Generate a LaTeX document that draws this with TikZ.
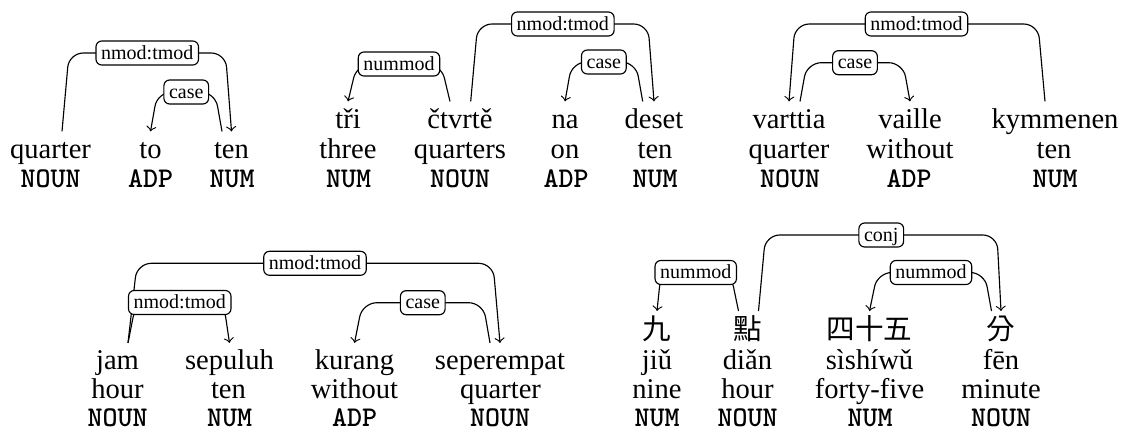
\documentclass[tikz,border=0pt]{standalone}
\usepackage{fontspec}
\setmainfont{Liberation Serif}
\newfontfamily\cjk{Noto Sans CJK TC}
\usetikzlibrary{calc}
\tikzset{
  wd/.style={anchor=base, inner xsep=0pt, inner ysep=2.1pt, text height=7pt, text depth=2pt},
  cj/.style={anchor=base, inner xsep=0pt, inner ysep=2.1pt, text height=7.5pt, text depth=1pt, font=\cjk},
  gl/.style={anchor=base, inner sep=0pt},
  tg/.style={anchor=base, inner sep=0pt, font=\ttfamily\bfseries},
  lab/.style={draw, fill=white, rounded corners=2pt, font=\fontsize{7}{8}\selectfont,
    inner xsep=1.8pt, inner ysep=1.4pt, text height=5pt, text depth=0.6pt, line width=0.4pt},
  dep/.style={->, rounded corners=5pt, line width=0.4pt}
}
% #1 start coordinate, #2 target node, #3 level, #4 start slant, #5 end slant, #6 label name, #7 label text
\newcommand\depedge[7]{%
  \draw[dep] (#1) -- ($(#1 |- 0,#3)+(#4,0)$) -- node[lab] (#6) {#7} ($(#2.north |- 0,#3)+(#5,0)$) -- (#2.north);
}
\begin{document}
\begin{tikzpicture}[x=0.35pt, y=-0.35pt]
\useasboundingbox (0,0) rectangle (1121,430);

% ---------- top left ----------
\node[wd] (a1) at (50.5,158) {quarter};
\node[tg] (a1t) at (50.5,187) {NOUN};
\node[wd] (a2) at (150.5,158) {to};
\node[tg] (a2t) at (150.5,187) {ADP};
\node[wd] (a3) at (231.5,158) {ten};
\node[tg] (a3t) at (232,187) {NUM};
\coordinate (a1o) at ($(a1.north)+(11.5,0)$);
\coordinate (a3o) at ($(a3.north)+(-9.5,0)$);
\depedge{a1o}{a3}{53}{7}{-6}{la1}{nmod:tmod}
\depedge{a3o}{a2}{92}{-7}{7}{la2}{case}

% ---------- top middle ----------
\node[wd] (b1) at (348,128) {tři};
\node[gl] (b1g) at (348,158) {three};
\node[tg] (b1t) at (348.5,187) {NUM};
\node[wd] (b2) at (460,128) {čtvrtě};
\node[gl] (b2g) at (460,158) {quarters};
\node[tg] (b2t) at (460,187) {NOUN};
\node[wd] (b3) at (565,128) {na};
\node[gl] (b3g) at (565,158) {on};
\node[tg] (b3t) at (566,187) {ADP};
\node[wd] (b4) at (654,128) {deset};
\node[gl] (b4g) at (655,158) {ten};
\node[tg] (b4t) at (655,187) {NUM};
\coordinate (b2l) at ($(b2.north)+(-10,0)$);
\coordinate (b2r) at ($(b2.north)+(10.7,0)$);
\coordinate (b4o) at ($(b4.north)+(-11.3,0)$);
\depedge{b2l}{b1}{64}{-9}{9}{lb1}{nummod}
\depedge{b2r}{b4}{24}{7}{-6}{lb2}{nmod:tmod}
\depedge{b4o}{b3}{62}{-7}{7}{lb3}{case}

% ---------- top right ----------
\node[wd] (c1) at (789,128) {varttia};
\node[gl] (c1g) at (789,158) {quarter};
\node[tg] (c1t) at (790,187) {NOUN};
\node[wd] (c2) at (910,128) {vaille};
\node[gl] (c2g) at (910,158) {without};
\node[tg] (c2t) at (909,187) {ADP};
\node[wd] (c3) at (1055,128) {kymmenen};
\node[gl] (c3g) at (1054,158) {ten};
\node[tg] (c3t) at (1055,187) {NUM};
\coordinate (c3o) at ($(c3.north)+(-10,0)$);
\coordinate (c1o) at ($(c1.north)+(11,0)$);
\depedge{c3o}{c1}{24}{-7}{6}{lc1}{nmod:tmod}
\depedge{c1o}{c2}{62.7}{7}{-7}{lc2}{case}

% ---------- bottom left ----------
\node[wd] (d1) at (117.5,369.5) {jam};
\node[gl] (d1g) at (117.5,398) {hour};
\node[tg] (d1t) at (117.5,426.5) {NOUN};
\node[wd] (d2) at (229.5,369.5) {sepuluh};
\node[gl] (d2g) at (228.5,398) {ten};
\node[tg] (d2t) at (229.5,426.5) {NUM};
\node[wd] (d3) at (354.5,369.5) {kurang};
\node[gl] (d3g) at (354.5,398) {without};
\node[tg] (d3t) at (354.5,426.5) {ADP};
\node[wd] (d4) at (500,369.5) {seperempat};
\node[gl] (d4g) at (500.5,398) {quarter};
\node[tg] (d4t) at (500,426.5) {NOUN};
\coordinate (d1o) at ($(d1.north)+(10.5,0)$);
\coordinate (d4o) at ($(d4.north)+(-10,0)$);
\depedge{d1o}{d4}{263.3}{9}{-7}{ld1}{nmod:tmod}
\depedge{d1o}{d2}{302.5}{8}{-6}{ld2}{nmod:tmod}
\depedge{d4o}{d3}{302.7}{-7}{8}{ld3}{case}

% ---------- bottom right ----------
\node[cj] (e1) at (657,339) {九};
\node[gl] (e1p) at (657,369) {jiǔ};
\node[gl] (e1g) at (657,398) {nine};
\node[tg] (e1t) at (657,426.5) {NUM};
\node[cj] (e2) at (747.5,339) {點};
\node[gl] (e2p) at (747.5,369) {diǎn};
\node[gl] (e2g) at (747.5,398) {hour};
\node[tg] (e2t) at (747.5,426.5) {NOUN};
\node[cj] (e3) at (869.5,339) {四十五};
\node[gl] (e3p) at (869.5,369) {sìshíwǔ};
\node[gl] (e3g) at (869.5,398) {forty-five};
\node[tg] (e3t) at (870,426.5) {NUM};
\node[cj] (e4) at (1001,339) {分};
\node[gl] (e4p) at (1001,369) {fēn};
\node[gl] (e4g) at (1001,398) {minute};
\node[tg] (e4t) at (1001,426.5) {NOUN};
\coordinate (e2r) at ($(e2.north)+(11,0)$);
\coordinate (e2l) at ($(e2.north)+(-9,0)$);
\coordinate (e4o) at ($(e4.north)+(-9.5,0)$);
\depedge{e2r}{e4}{235}{7}{-4}{le1}{conj}
\depedge{e2l}{e1}{272.5}{-8}{4}{le2}{nummod}
\depedge{e4o}{e3}{272.5}{-7}{8}{le3}{nummod}
\end{tikzpicture}
\end{document}
